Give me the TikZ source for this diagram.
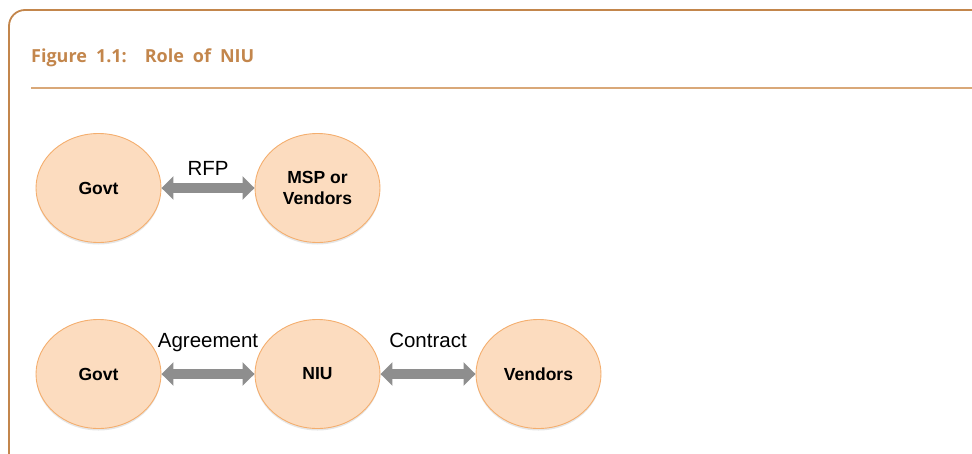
\documentclass[tikz,border=0pt]{standalone}
\usepackage{fontspec}
\setmainfont{Liberation Sans}
\newfontfamily\titlefont{Open Sans}
\usetikzlibrary{arrows.meta,shapes.geometric,shadows}
\definecolor{niubrown}{HTML}{C3864C}
\definecolor{niurule}{HTML}{D9A878}
\definecolor{niufill}{HTML}{FCDCBF}
\definecolor{niuedge}{HTML}{F4AE6E}
\definecolor{niugray}{HTML}{8E8E8E}
\tikzset{
  party/.style={ellipse,draw=niuedge,line width=0.9pt,fill=niufill,
    minimum width=125pt,minimum height=109pt,inner sep=0pt,align=center,
    font=\fontsize{17.5}{21}\selectfont\bfseries,
    drop shadow={shadow xshift=0pt,shadow yshift=-2pt,opacity=0.2}},
  link/.style={niugray,line width=9.5pt,
    {Triangle[width=23pt,length=12pt]}-{Triangle[width=23pt,length=12pt]}},
  linklabel/.style={font=\fontsize{20.5}{24}\selectfont,text=black,anchor=base,inner sep=0pt}
}
\begin{document}
\begin{tikzpicture}[x=1pt,y=-1pt]
    \useasboundingbox (0,0) rectangle (972,453);
    \draw[niubrown,line width=1.8pt,rounded corners=16pt] (9,470) -- (9,10) -- (990,10);
    \draw[niurule,line width=1.2pt] (31,88) -- (972,88);
    \node[anchor=base west,inner sep=0pt,text=niubrown,
      font=\titlefont\fontsize{18}{22}\selectfont\bfseries]
      (title) at (31,62) {\spaceskip=9pt Figure 1.1:\hspace{18pt}Role of NIU};

    \node[party] (govtA) at (98.5,188) {Govt};
    \node[party] (msp) at (317.5,188) {MSP or\\Vendors};
    \draw[link] (govtA.east) -- (msp.west) node[midway,linklabel,yshift=13pt] (rfp) {RFP};

    \node[party] (govtB) at (98.5,374) {Govt};
    \node[party] (niu) at (317.5,374) {NIU};
    \node[party] (vendors) at (538.5,374) {Vendors};
    \draw[link] (govtB.east) -- (niu.west) node[midway,linklabel,yshift=27pt] (agree) {Agreement};
    \draw[link] (niu.east) -- (vendors.west) node[midway,linklabel,yshift=27pt] (contract) {Contract};
\end{tikzpicture}
\end{document}
